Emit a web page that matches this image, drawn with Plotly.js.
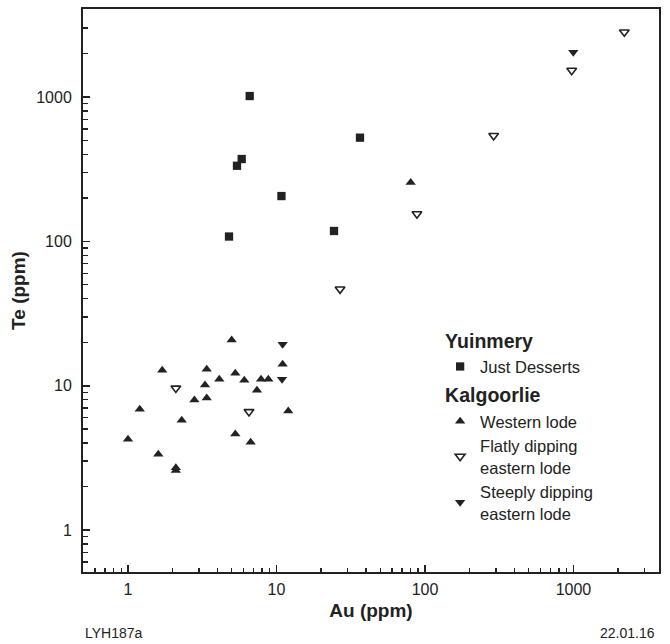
<!DOCTYPE html>
<html>
<head>
<meta charset="utf-8">
<script src="https://cdn.plot.ly/plotly-3.0.1.min.js"></script>
<style>html,body{margin:0;padding:0;background:#fff;}#chart{width:670px;height:644px;}</style>
</head>
<body>
<div id="chart"></div>
<script>
// Yuinmery - Just Desserts
const justDessertsAu = [6.6, 36.5, 5.83, 5.42, 10.8, 24.4, 4.79];
const justDessertsTe = [1016, 523, 372, 334, 206, 118, 108];
// Kalgoorlie - Western lode
const westernAu = [4.99, 1.70, 3.39, 5.28, 6.07, 4.12, 7.87, 8.81, 11.0, 3.30, 7.39, 2.80, 3.39, 1.20, 2.30, 12.0, 1.0, 5.28, 6.7, 1.60, 2.10, 2.10, 80.1];
const westernTe = [20.7, 12.8, 13.0, 12.2, 10.9, 11.1, 11.1, 11.1, 14.1, 10.1, 9.3, 7.96, 8.2, 6.86, 5.75, 6.67, 4.25, 4.62, 4.05, 3.35, 2.70, 2.58, 256];
// Kalgoorlie - Flatly dipping eastern lode
const flatAu = [2.10, 6.53, 26.8, 88.3, 290, 973, 2200];
const flatTe = [9.6, 6.6, 46.7, 155, 540, 1530, 2820];
// Kalgoorlie - Steeply dipping eastern lode
const steepAu = [11.0, 10.9, 997];
const steepTe = [19.4, 11.1, 2040];

// Axis ticks
const tickVals = [1, 10, 100, 1000];
const tickText = ['1', '10', '100', '1000'];
const minorTickVals = [0.5, 0.6, 0.7, 0.8, 0.9,
  2, 3, 4, 5, 6, 7, 8, 9,
  20, 30, 40, 50, 60, 70, 80, 90,
  200, 300, 400, 500, 600, 700, 800, 900,
  2000, 3000];

const xRange = [-0.303, 3.576];
const yRange = [-0.291, 3.610];

const ink = '#222';
const fontFam = '"Liberation Sans", Arial, Helvetica, sans-serif';
const groupTitleFont = {family: fontFam, size: 19.5, color: ink, weight: 'bold'};

const traces = [
  {x: justDessertsAu, y: justDessertsTe, mode: 'markers', type: 'scatter', name: 'Just Desserts',
   legendgroup: 'yuin', legendgrouptitle: {text: 'Yuinmery', font: groupTitleFont},
   marker: {symbol: 'square', size: 8.3, color: ink}},
  {x: westernAu, y: westernTe, mode: 'markers', type: 'scatter', name: 'Western lode',
   legendgroup: 'kal', legendgrouptitle: {text: 'Kalgoorlie', font: groupTitleFont},
   marker: {symbol: 'triangle-up', size: 9, color: ink}},
  {x: flatAu, y: flatTe, mode: 'markers', type: 'scatter', name: 'Flatly dipping<br>eastern lode',
   legendgroup: 'kal',
   marker: {symbol: 'triangle-down-open', size: 8.5, color: ink, line: {width: 1.6, color: ink}}},
  {x: steepAu, y: steepTe, mode: 'markers', type: 'scatter', name: 'Steeply dipping<br>eastern lode',
   legendgroup: 'kal',
   marker: {symbol: 'triangle-down', size: 9, color: ink}},
  // empty trace so the minor-tick overlay axes are drawn
  {x: [], y: [], xaxis: 'x2', yaxis: 'y2', type: 'scatter', mode: 'markers', showlegend: false, hoverinfo: 'skip'}
];

const axisCommon = {
  type: 'log',
  tickmode: 'array', tickvals: tickVals, ticktext: tickText,
  ticks: 'inside', ticklen: 7, tickwidth: 1.7, tickcolor: ink,
  showline: true, linecolor: ink, linewidth: 2, mirror: true,
  showgrid: false, zeroline: false,
  tickfont: {family: fontFam, size: 16, color: ink}
};

const minorCommon = {
  type: 'log',
  tickmode: 'array', tickvals: minorTickVals,
  ticks: 'inside', ticklen: 4.5, tickwidth: 1.4, tickcolor: ink,
  showticklabels: false, showline: false, showgrid: false, zeroline: false
};

const layout = {
  width: 670, height: 644,
  margin: {l: 83, r: 11, t: 9, b: 72},
  paper_bgcolor: '#fff', plot_bgcolor: '#fff',
  font: {family: fontFam, color: ink},
  showlegend: true,
  legend: {x: 0.62, xanchor: 'left', y: 0.446, yanchor: 'top', traceorder: 'grouped',
           tracegroupgap: 2, font: {family: fontFam, size: 16.5, color: ink}, bgcolor: 'rgba(0,0,0,0)'},
  xaxis: Object.assign({}, axisCommon, {
    range: xRange,
    ticklabelstandoff: 2,
    title: {text: 'Au (ppm)', font: {family: fontFam, size: 19, color: ink, weight: 'bold'}, standoff: 6}
  }),
  yaxis: Object.assign({}, axisCommon, {
    range: yRange,
    ticklabelstandoff: 6,
    title: {text: 'Te (ppm)', font: {family: fontFam, size: 19, color: ink, weight: 'bold'}, standoff: 6}
  }),
  xaxis2: Object.assign({}, minorCommon, {range: xRange, overlaying: 'x', anchor: 'y', side: 'bottom'}),
  yaxis2: Object.assign({}, minorCommon, {range: yRange, overlaying: 'y', anchor: 'x', side: 'left'}),
  annotations: [
    {text: 'LYH187a', xref: 'paper', yref: 'paper', x: 0, y: -0.108, xanchor: 'left', yanchor: 'middle',
     showarrow: false, font: {family: fontFam, size: 14, color: ink}},
    {text: '22.01.16', xref: 'paper', yref: 'paper', x: 0.9965, y: -0.108, xanchor: 'right', yanchor: 'middle',
     showarrow: false, font: {family: fontFam, size: 14, color: ink}}
  ]
};

Plotly.newPlot('chart', traces, layout, {displayModeBar: false, staticPlot: true});
</script>
</body>
</html>
